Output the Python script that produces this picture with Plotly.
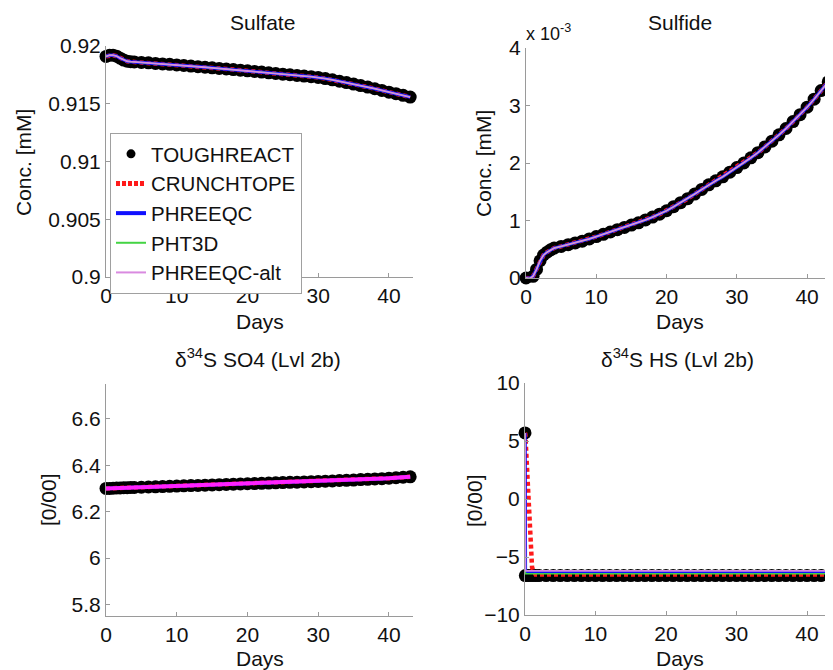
import plotly.graph_objects as go

# ---------------- data ----------------
days = [0, 0.5, 1, 1.5, 2, 2.5, 3, 3.5, 4,
        5, 6, 7, 8, 9, 10, 11, 12, 13, 14, 15, 16, 17, 18, 19, 20,
        21, 22, 23, 24, 25, 26, 27, 28, 29, 30, 31, 32, 33, 34, 35,
        36, 37, 38, 39, 40, 41, 42, 43]

sulfate = [0.91910, 0.91920, 0.91920, 0.91912, 0.91895, 0.91878, 0.91868, 0.91864, 0.91862,
           0.91858, 0.91854, 0.91849, 0.91845, 0.91841,
           0.91836, 0.91831, 0.91826, 0.91821, 0.91816,
           0.91811, 0.91806, 0.91801, 0.91796, 0.91791,
           0.91785, 0.91780, 0.91774, 0.91768, 0.91762,
           0.91756, 0.91751, 0.91745, 0.91740, 0.91734,
           0.91728, 0.91718, 0.91707, 0.91695, 0.91683,
           0.91670, 0.91657, 0.91644, 0.91630, 0.91615,
           0.91600, 0.91587, 0.91573, 0.91558]

# sulfide in units of 1e-3 mM
sulfide = [0.00, -0.01, 0.03, 0.15, 0.30, 0.40, 0.45, 0.49, 0.52,
           0.55, 0.58, 0.61, 0.64, 0.68,
           0.72, 0.76, 0.80, 0.84, 0.88,
           0.92, 0.96, 1.01, 1.06, 1.11,
           1.17, 1.24, 1.31, 1.38, 1.46,
           1.54, 1.62, 1.69, 1.76, 1.84,
           1.92, 2.00, 2.09, 2.18, 2.28,
           2.38, 2.49, 2.60, 2.72, 2.84,
           2.97, 3.11, 3.26, 3.41]

d34s_so4 = [6.300, 6.300, 6.301, 6.302, 6.302, 6.303, 6.303, 6.304, 6.304,
            6.305, 6.306, 6.307, 6.308, 6.309,
            6.310, 6.311, 6.312, 6.313, 6.314,
            6.315, 6.316, 6.317, 6.318, 6.319,
            6.320, 6.321, 6.322, 6.323, 6.324,
            6.325, 6.326, 6.327, 6.328, 6.329,
            6.330, 6.331, 6.332, 6.334, 6.335,
            6.336, 6.338, 6.339, 6.341, 6.342,
            6.344, 6.346, 6.348, 6.350]

hs_days = [0, 0.05, 0.5, 1, 1.5,
           2, 3, 4, 5, 6, 7, 8, 9, 10, 11, 12, 13, 14, 15, 16, 17, 18, 19, 20,
           21, 22, 23, 24, 25, 26, 27, 28, 29, 30, 31, 32, 33, 34, 35,
           36, 37, 38, 39, 40, 41, 42, 43]
hs_toughreact = [5.7] + [-6.6] * 46
hs_crunchtope = [5.7, 5.6, 0.1, -5.9] + [-6.5] * 43
hs_phreeqc = [5.7] + [-6.3] * 46
hs_pht3d = [5.7] + [-6.45] * 46
hs_phreeqc_alt = [5.7] + [-6.2] * 46

x_ticks = [0, 10, 20, 30, 40]
y1_ticks = [0.9, 0.905, 0.91, 0.915, 0.92]
y1_labels = ["0.9", "0.905", "0.91", "0.915", "0.92"]
y2_ticks = [0, 1, 2, 3, 4]
y3_ticks = [5.8, 6.0, 6.2, 6.4, 6.6]
y3_labels = ["5.8", "6", "6.2", "6.4", "6.6"]
y4_ticks = [-10, -5, 0, 5, 10]

series_names = ["TOUGHREACT", "CRUNCHTOPE", "PHREEQC", "PHT3D", "PHREEQC-alt"]

# ---------------- styles ----------------
# page body has an 8px margin, so the figure is offset by (8, 8) in the window
OX, OY = 8, 8
W, H = 825, 662
FONT = "Liberation Sans, Arial, Helvetica, sans-serif"
TXT = "#111111"
AX = "#9a9a9a"
RED = "#ff1a1a"
BLUE = "#1010ff"
GREEN = "#44d444"
VIOLET = "#d98ae0"
MAGENTA = "#ff22ff"


def px(x, y):
    return (x - OX) / W, 1 - (y - OY) / H


def xdom(a, b):
    return [(a - OX) / W, (b - OX) / W]


def ydom(top, bottom):
    return [1 - (bottom - OY) / H, 1 - (top - OY) / H]


fig = go.Figure()


def add_panel(xa, ya, x_t, t_y, c_y, p_y, g_y, a_y, alt_color=VIOLET, alt_w=1.8):
    common = dict(xaxis=xa, yaxis=ya, showlegend=False, cliponaxis=False, hoverinfo="skip")
    fig.add_trace(go.Scatter(x=x_t, y=t_y, mode="markers",
                             marker=dict(color="black", size=13, line=dict(width=0)), **common))
    fig.add_trace(go.Scatter(x=x_t, y=c_y, mode="lines",
                             line=dict(color=RED, width=4.5, dash="4px,3px"), **common))
    fig.add_trace(go.Scatter(x=x_t, y=p_y, mode="lines",
                             line=dict(color=BLUE, width=3.5), **common))
    fig.add_trace(go.Scatter(x=x_t, y=g_y, mode="lines",
                             line=dict(color=GREEN, width=1.6), **common))
    fig.add_trace(go.Scatter(x=x_t, y=a_y, mode="lines",
                             line=dict(color=alt_color, width=alt_w), **common))


add_panel("x", "y", days, sulfate, sulfate, sulfate, sulfate, sulfate)
add_panel("x2", "y2", days, sulfide, sulfide, sulfide, sulfide, sulfide)
add_panel("x3", "y3", days, d34s_so4, d34s_so4, d34s_so4, d34s_so4, d34s_so4,
          alt_color=MAGENTA, alt_w=4)
add_panel("x4", "y4", hs_days, hs_toughreact, hs_crunchtope, hs_phreeqc, hs_pht3d, hs_phreeqc_alt)

# legend proxies
leg = [
    dict(mode="markers", marker=dict(color="black", size=9)),
    dict(mode="lines", line=dict(color=RED, width=5, dash="4px,2px")),
    dict(mode="lines", line=dict(color=BLUE, width=4)),
    dict(mode="lines", line=dict(color=GREEN, width=2)),
    dict(mode="lines", line=dict(color=VIOLET, width=2)),
]
for name, st in zip(series_names, leg):
    fig.add_trace(go.Scatter(x=[None], y=[None], name=name, xaxis="x", yaxis="y",
                             showlegend=True, **st))

axis_common = dict(showline=True, linecolor=AX, linewidth=1, ticks="inside", ticklen=4,
                   tickcolor=AX, showgrid=False, zeroline=False, mirror=False, automargin=False,
                   tickfont=dict(size=21, color=TXT, family=FONT))

fig.update_layout(
    width=W, height=H, autosize=False,
    margin=dict(l=0, r=0, t=0, b=0, pad=0, autoexpand=False),
    paper_bgcolor="white", plot_bgcolor="white",
    font=dict(family=FONT, size=21, color=TXT),
    xaxis=dict(domain=xdom(106, 413), anchor="y", range=[0, 43.4], tickvals=x_ticks, **axis_common),
    yaxis=dict(domain=ydom(46, 277), anchor="x", range=[0.9, 0.92],
               tickvals=y1_ticks, ticktext=y1_labels, **axis_common),
    xaxis2=dict(domain=xdom(526, 831), anchor="y2", range=[0, 43.4], tickvals=x_ticks, **axis_common),
    yaxis2=dict(domain=ydom(48, 278), anchor="x2", range=[0, 4],
                tickvals=y2_ticks, **axis_common),
    xaxis3=dict(domain=xdom(106, 413), anchor="y3", range=[0, 43.4], tickvals=x_ticks, **axis_common),
    yaxis3=dict(domain=ydom(384, 616), anchor="x3", range=[5.75, 6.75],
                tickvals=y3_ticks, ticktext=y3_labels, **axis_common),
    xaxis4=dict(domain=xdom(525, 831), anchor="y4", range=[0, 43.4], tickvals=x_ticks, **axis_common),
    yaxis4=dict(domain=ydom(383, 615), anchor="x4", range=[-10, 10],
                tickvals=y4_ticks, **axis_common),
    legend=dict(x=px(110, 133)[0], y=px(110, 133)[1], xanchor="left", yanchor="top",
                bgcolor="white", bordercolor="#a0a0a0", borderwidth=1,
                font=dict(size=20.5, color=TXT, family=FONT),
                itemwidth=30, tracegroupgap=0),
)

annots = [
    ("Sulfate", 262, 23, 0),
    ("Sulfide", 680, 23, 0),
    ("δ<sup>34</sup>S SO4 (Lvl 2b)", 258, 358, 0),
    ("δ<sup>34</sup>S HS (Lvl 2b)", 677, 358, 0),
    ("Days", 260, 321, 0),
    ("Days", 680, 321, 0),
    ("Days", 260, 658, 0),
    ("Days", 680, 658, 0),
    ("Conc. [mM]", 23, 163, -90),
    ("Conc. [mM]", 483, 164, -90),
    ("[0/00]", 48, 500, -90),
    ("[0/00]", 474, 501, -90),
]
for text, x, y, ang in annots:
    ax_, ay_ = px(x, y)
    fig.add_annotation(text=text, x=ax_, y=ay_, xref="paper", yref="paper",
                       xanchor="center", yanchor="middle", showarrow=False, textangle=ang,
                       font=dict(size=21, color=TXT, family=FONT))

ex, ey = px(524, 32)
fig.add_annotation(text="x 10<sup>-3</sup>", x=ex, y=ey, xref="paper", yref="paper",
                   xanchor="left", yanchor="middle", showarrow=False,
                   font=dict(size=18, color=TXT, family=FONT))

fig.write_html("out.html")
